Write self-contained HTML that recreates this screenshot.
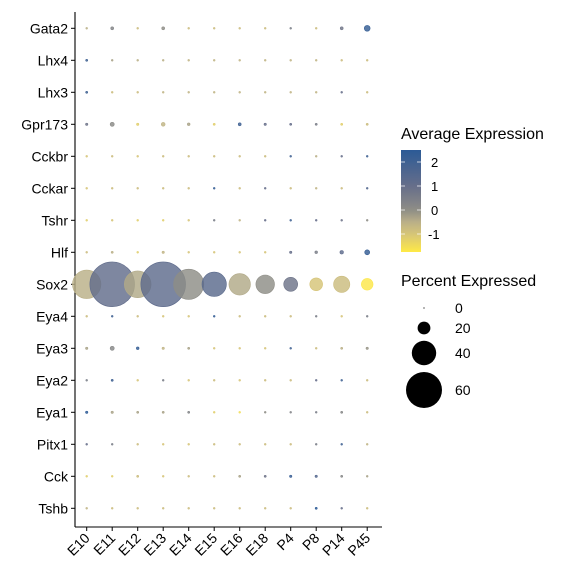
<!DOCTYPE html>
<html><head><meta charset="utf-8"><style>
body{margin:0;background:#fff;}
svg{display:block;font-family:"Liberation Sans",sans-serif;}
</style></head><body>
<svg width="576" height="576" viewBox="0 0 576 576">
<g id="plot"></g>
<g id="legend"></g>
</svg>
<script>
const genes = ["Gata2","Lhx4","Lhx3","Gpr173","Cckbr","Cckar","Tshr","Hlf","Sox2","Eya4","Eya3","Eya2","Eya1","Pitx1","Cck","Tshb"];
const groups = ["E10","E11","E12","E13","E14","E15","E16","E18","P4","P8","P14","P45"];
const pctData = [
[1,3,1,3,1,1,1,1,1,1,3,8],
[1.5,1,1,1,1,1,1,1,1,1,1,1],
[1.5,1,1,1,1,1,1,1,1,1,1,1],
[2,5,2,4.5,2.5,1.5,3,2,1.5,1.5,1.5,1.5],
[1,1,1,1,1,1,1,1,1,1,1,1],
[1,1,1,1,1,1,1,1,1,1,1,1],
[1,1,1,1,1,1,1,1,1,1,1,1],
[1,1.5,1,2,1,1,1,1,2,2.5,4,6.5],
[47,75,44,75,50,40,35,30,22,20,26,18],
[1,1,1,1,1,1,1,1,1,1,1,1],
[2,5,2.5,2,1.5,1,1,1,1,1,1.5,2],
[1,1.5,1,1,1,1,1,1,1,1,1,1],
[2,2,1.5,1.5,1.5,1,1,1,1,1,1.5,1],
[1,1,1,1,1,1,1,1,1,1,1,1],
[1,1,1.5,1,1,1,1.5,1.5,2,2,1.5,1],
[1,1,1,1,1,1,1,1,1,1.5,1,1]
];
const avgData = [
[-0.5,0.3,-0.8,0,-0.8,-0.8,-0.8,-0.8,0.5,-0.8,0.7,2.3],
[2,-0.3,-0.5,-0.5,-0.6,-0.6,-0.6,-0.6,-0.6,-0.6,-0.8,-0.8],
[2,-0.8,-0.8,-0.6,-0.6,-0.6,-0.6,-0.6,-0.6,-0.6,1,-0.8],
[0.8,0.1,-1.2,-0.6,-0.3,-1.2,2,1,1,0.5,-1.2,-0.8],
[-1,-0.8,-1,-0.8,-0.8,-0.8,-0.8,-0.8,2,-0.5,1,2],
[-1,-0.8,-0.8,-0.8,-0.8,2.3,-0.8,1,-0.8,-0.6,-0.8,1.5],
[-1.2,-1,-1.2,-1.2,-1,0.5,-0.6,1,2,1,0.8,0],
[-0.8,-0.5,-1.2,-0.6,-1,-1,-1,-1,1,0.5,1.2,2.3],
[-0.5,1.1,-0.4,1.2,0,1.3,-0.4,0,0.8,-1,-0.8,-1.7],
[-0.8,2,-0.8,-1,-1,2.3,-0.8,-0.8,-0.8,0.5,-1,0.5],
[-0.3,0.2,2.3,-0.6,-0.3,-1,-1,-1,2,-0.8,-0.5,-0.1],
[0.5,2,-1,0.5,-1,-0.8,-1,-0.8,-0.8,1,2,-0.8],
[2.5,-0.3,-0.3,-0.3,0.3,-1.2,-1.5,0,0.3,0.5,0.2,-0.8],
[1,0.5,-0.8,-1,-1,-0.8,-0.8,-0.8,-0.8,0.5,2,-0.6],
[-1.2,-1.2,-0.8,-1,-0.8,-0.8,-0.3,0.8,2.2,1.5,0.2,-0.3],
[-0.6,-0.8,-0.8,-0.8,-0.8,-0.8,-0.8,-0.8,-0.8,2.5,1,-0.8]
];
const colorTicks = [2,1,0,-1];
const sizeTicks = [0,20,40,60];

const NS="http://www.w3.org/2000/svg";
function mk(t,a,p){const e=document.createElementNS(NS,t);for(const k in a)e.setAttribute(k,a[k]);p.appendChild(e);return e;}
const xS=i=>86.7+i*25.5;
const yS=j=>28.3+j*32;
const rS=p=>0.6+0.29*p;
const vMin=-1.75,vMax=2.5;
const stops=[[-1.75,[255,234,70]],[-1,[214,196,120]],[-0.5,[186,176,136]],[0,[142,141,134]],[1,[102,110,138]],[2.5,[44,90,150]]];
function col(v){v=Math.max(vMin,Math.min(vMax,v));
 for(let k=1;k<stops.length;k++){if(v<=stops[k][0]){const a=stops[k-1],b=stops[k];const f=(v-a[0])/(b[0]-a[0]);
 const c=a[1].map((x,i)=>Math.round(x+(b[1][i]-x)*f));return `rgb(${c})`;}}return "rgb(44,90,150)";}

const plot=document.getElementById('plot');
const ya=mk('line',{x1:75,y1:12,x2:75,y2:527,stroke:'#000','stroke-width':1.1},plot);


const xa=mk('line',{x1:75,y1:527,x2:382,y2:527,stroke:'#000','stroke-width':1.1},plot);


genes.forEach((g,j)=>{
 mk('line',{x1:71,y1:yS(j),x2:75,y2:yS(j),stroke:'#000'},plot);
 const t=mk('text',{x:68,y:yS(j)+5,'text-anchor':'end','font-size':14},plot);t.textContent=g;
 
 
});
groups.forEach((g,i)=>{
 mk('line',{x1:xS(i),y1:527,x2:xS(i),y2:531,stroke:'#000'},plot);
 const t=mk('text',{x:0,y:0,'text-anchor':'end','font-size':14,transform:`translate(${xS(i)+4},${539}) rotate(-45)`},plot);t.textContent=g;
 
 
});
genes.forEach((g,j)=>groups.forEach((gr,i)=>{
 const c=mk('circle',{cx:xS(i),cy:yS(j),r:rS(pctData[j][i]),fill:col(avgData[j][i]),'fill-opacity':0.82,stroke:col(avgData[j][i]),'stroke-width':0.6},plot);
 
 
}));

const lg=document.getElementById('legend');
const t1=mk('text',{x:401,y:139,'font-size':16},lg);t1.textContent="Average Expression";


const defs=mk('defs',{},lg);const gr=mk('linearGradient',{id:'cg',x1:0,y1:1,x2:0,y2:0},defs);
for(let k=0;k<=20;k++){const v=vMin+(vMax-vMin)*k/20;mk('stop',{offset:k/20,'stop-color':col(v)},gr);}
const gy0=150,gy1=252;const gv=v=>gy1-(v-vMin)/(vMax-vMin)*(gy1-gy0);
const bar=mk('rect',{x:401,y:gy0,width:20,height:gy1-gy0,fill:'url(#cg)'},lg);


colorTicks.forEach(v=>{
 mk('line',{x1:401,y1:gv(v),x2:405,y2:gv(v),stroke:'#fff','stroke-width':0.7},lg);
 mk('line',{x1:417,y1:gv(v),x2:421,y2:gv(v),stroke:'#fff','stroke-width':0.7},lg);
 const t=mk('text',{x:v<0?428:431,y:gv(v)+5,'font-size':13},lg);t.textContent=v<0?"-"+Math.abs(v):String(v);
 
 
});
const t2=mk('text',{x:401,y:286,'font-size':16},lg);t2.textContent="Percent Expressed";


const sy=[308,328,353,390];
sizeTicks.forEach((p,k)=>{
 const c=mk('circle',{cx:424,cy:sy[k],r:rS(p),fill:'#000'},lg);
 
 
 const t=mk('text',{x:455,y:sy[k]+5,'font-size':14},lg);t.textContent=String(p);
 
 
});
</script>
</body></html>
